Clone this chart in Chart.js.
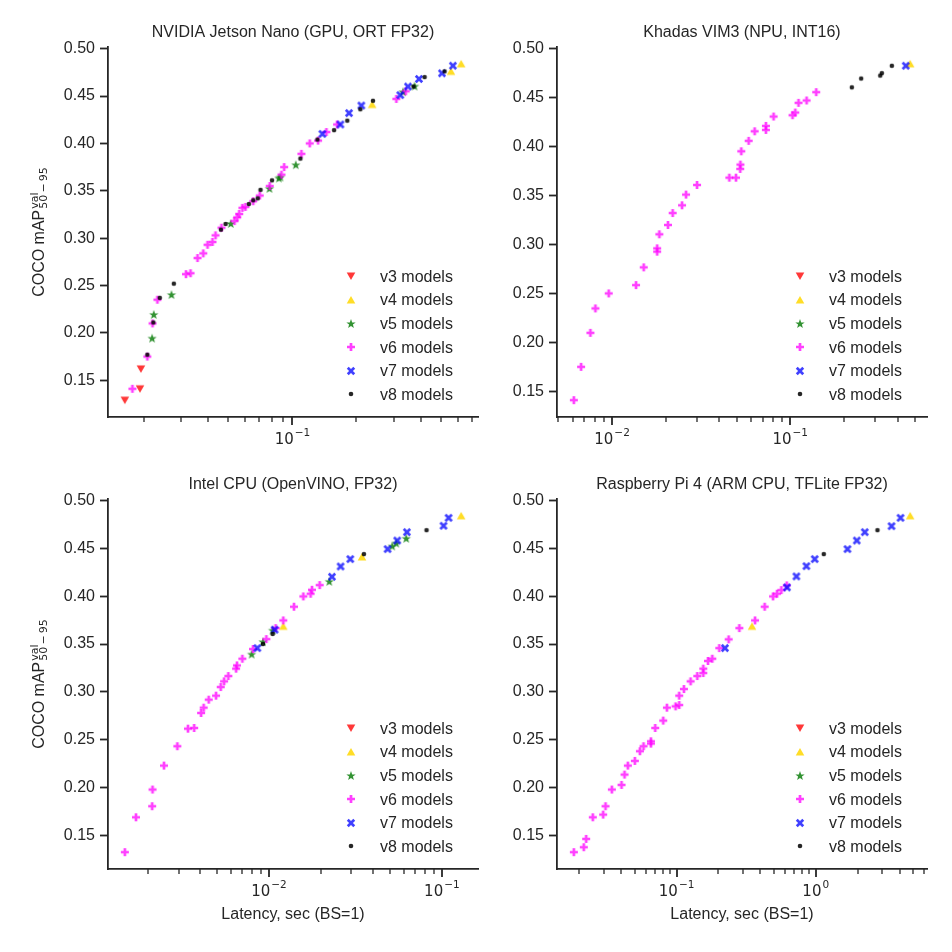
<!DOCTYPE html>
<html>
<head>
<meta charset="utf-8">
<script src="https://cdn.jsdelivr.net/npm/chart.js@4.4.1/dist/chart.umd.min.js"></script>
<style>
  body { margin: 0; background: #fff; }
  #wrap { position: relative; width: 952px; height: 952px; background: #fff; }
  canvas { position: absolute; }
</style>
</head>
<body>
<div id="wrap"></div>
<script>
// Labels
const seriesNames = ['v3 models', 'v4 models', 'v5 models', 'v6 models', 'v7 models', 'v8 models'];
const panelTitles = ['NVIDIA Jetson Nano (GPU, ORT FP32)', 'Khadas VIM3 (NPU, INT16)',
                     'Intel CPU (OpenVINO, FP32)', 'Raspberry Pi 4 (ARM CPU, TFLite FP32)'];
const yTicks = [0.15, 0.20, 0.25, 0.30, 0.35, 0.40, 0.45, 0.50];
const xMajorTicks = [[0.1], [0.01, 0.1], [0.01, 0.1], [0.1, 1]];
const xAxisLabel = 'Latency, sec (BS=1)';

// NVIDIA Jetson Nano: [latency sec, mAP]
const nanoV3 = [[0.0163,0.129],[0.0192,0.141],[0.0194,0.162]];
const nanoV4 = [[0.237,0.441],[0.556,0.476],[0.621,0.484]];
const nanoV5 = [[0.0219,0.194],[0.0223,0.219],[0.0270,0.240],[0.0513,0.315],[0.078,0.352],[0.0863,0.363],
                [0.0878,0.364],[0.1037,0.377],[0.331,0.454],[0.375,0.460]];
const nanoV6 = [[0.0177,0.141],[0.0208,0.175],[0.0220,0.210],[0.0232,0.235],[0.0316,0.262],[0.0332,0.263],
                [0.0358,0.279],[0.0381,0.284],[0.0399,0.293],[0.0421,0.296],[0.0435,0.303],[0.0464,0.311],
                [0.0534,0.318],[0.0550,0.322],[0.0562,0.3255],[0.0582,0.332],[0.0601,0.333],[0.0654,0.339],
                [0.0702,0.345],[0.0782,0.355],[0.0888,0.367],[0.0914,0.375],[0.1102,0.389],[0.1206,0.400],
                [0.1320,0.403],[0.1444,0.412],[0.1621,0.420],[0.3078,0.447],[0.3404,0.455]];
const nanoV7 = [[0.1383,0.410],[0.168,0.420],[0.1845,0.432],[0.2108,0.440],[0.3213,0.451],[0.3491,0.460],
                [0.3933,0.468],[0.5044,0.474],[0.5679,0.482]];
const nanoV8 = [[0.0208,0.177],[0.0222,0.211],[0.0238,0.237],[0.0277,0.252],[0.0461,0.309],[0.0485,0.315],
                [0.0624,0.336],[0.0654,0.340],[0.0687,0.342],[0.0708,0.351],[0.0802,0.361],[0.109,0.384],
                [0.131,0.404],[0.157,0.414],[0.181,0.424],[0.2085,0.436],[0.239,0.445],[0.371,0.460],
                [0.418,0.470],[0.519,0.476]];

// Khadas VIM3
const vim3V3 = [];
const vim3V4 = [[0.471,0.484]];
const vim3V5 = [];
const vim3V6 = [[0.0061,0.1409],[0.0067,0.1749],[0.00756,0.2096],[0.00806,0.2345],[0.00958,0.2498],
                [0.01363,0.2583],[0.01505,0.2764],[0.0179,0.2924],[0.0179,0.2958],[0.01842,0.3101],
                [0.0206,0.3196],[0.02188,0.3318],[0.0247,0.3397],[0.026,0.3506],[0.02997,0.3604],
                [0.0455,0.3679],[0.0496,0.3679],[0.0524,0.3768],[0.0525,0.3812],[0.0531,0.3948],
                [0.0584,0.4054],[0.0631,0.4152],[0.073,0.4166],[0.073,0.4207],[0.0806,0.4302],
                [0.103,0.4316],[0.1067,0.4343],[0.1113,0.4442],[0.1235,0.4466],[0.1399,0.4551]];
const vim3V7 = [[0.445,0.482]];
const vim3V8 = [[0.2217,0.460],[0.25,0.469],[0.3197,0.472],[0.3266,0.4745],[0.3716,0.482]];

// Intel CPU
const intelV3 = [];
const intelV4 = [[0.0121,0.3685],[0.0345,0.441],[0.1293,0.484]];
const intelV5 = [[0.00794,0.339],[0.00923,0.352],[0.0105,0.364],[0.02233,0.415],[0.0516,0.452],
                 [0.0545,0.455],[0.0622,0.460]];
const intelV6 = [[0.001466,0.1325],[0.0017,0.169],[0.00211,0.1805],[0.00212,0.198],[0.00247,0.223],
                 [0.00295,0.2432],[0.0034,0.2616],[0.00369,0.2623],[0.00405,0.278],[0.00419,0.2835],
                 [0.00448,0.2919],[0.00494,0.2961],[0.00526,0.3051],[0.0055,0.311],[0.00582,0.3166],
                 [0.00645,0.3243],[0.00653,0.3277],[0.00701,0.3347],[0.00808,0.3448],[0.00965,0.3552],
                 [0.01093,0.3667],[0.0121,0.3747],[0.01395,0.389],[0.0158,0.3998],[0.0174,0.4026],
                 [0.01772,0.4067],[0.01963,0.4116]];
const intelV7 = [[0.00856,0.3458],[0.01078,0.365],[0.02313,0.4203],[0.02596,0.4311],[0.02953,0.4388],
                 [0.04852,0.4492],[0.05518,0.4582],[0.06277,0.4669],[0.1022,0.4736],[0.1093,0.4819]];
const intelV8 = [[0.00923,0.350],[0.0105,0.3605],[0.0354,0.444],[0.0815,0.469]];

// Raspberry Pi 4
const rpiV3 = [];
const rpiV4 = [[0.348,0.3685],[4.771,0.484]];
const rpiV5 = [];
const rpiV6 = [[0.01826,0.1325],[0.02154,0.1377],[0.02239,0.1464],[0.025,0.169],[0.02968,0.1718],
               [0.03085,0.1805],[0.03425,0.198],[0.04022,0.2028],[0.04226,0.2136],[0.04466,0.223],
               [0.05013,0.2279],[0.05448,0.238],[0.05787,0.2432],[0.06535,0.246],[0.06535,0.2484],
               [0.07023,0.2623],[0.08016,0.27],[0.08521,0.2835],[0.09836,0.2849],[0.1045,0.2863],
               [0.1045,0.2961],[0.1129,0.303],[0.1261,0.311],[0.1408,0.3166],[0.1555,0.3197],
               [0.1555,0.3243],[0.168,0.3323],[0.1805,0.3347],[0.2027,0.3458],[0.2366,0.3549],
               [0.2824,0.3667],[0.3661,0.3747],[0.4296,0.389],[0.4932,0.3998],[0.5271,0.4026],
               [0.5662,0.4064],[0.6185,0.4113]];
const rpiV7 = [[0.2227,0.3458],[0.622,0.4092],[0.7262,0.4207],[0.8568,0.4314],[0.9836,0.4388],
               [1.69,0.4492],[1.972,0.4582],[2.252,0.4669],[3.503,0.4732],[4.066,0.4819]];
const rpiV8 = [[1.142,0.444],[2.777,0.469]];

const panelSeries = [
  [nanoV3, nanoV4, nanoV5, nanoV6, nanoV7, nanoV8],
  [vim3V3, vim3V4, vim3V5, vim3V6, vim3V7, vim3V8],
  [intelV3, intelV4, intelV5, intelV6, intelV7, intelV8],
  [rpiV3, rpiV4, rpiV5, rpiV6, rpiV7, rpiV8]
];

const INK = '#262626';
const SANS = '"Liberation Sans", Arial, sans-serif';
const MATH = '"DejaVu Sans", sans-serif';

// marker sprites (matplotlib v, ^, *, P, X, .)
function makeMarker(kind, color) {
  const s = 14, c = document.createElement('canvas');
  c.width = s; c.height = s;
  const g = c.getContext('2d');
  g.fillStyle = color;
  g.translate(s / 2, s / 2);
  g.beginPath();
  if (kind === 'v') {
    g.moveTo(-4.3, -3.6); g.lineTo(4.3, -3.6); g.lineTo(0, 4.0);
  } else if (kind === '^') {
    g.moveTo(-4.3, 3.6); g.lineTo(4.3, 3.6); g.lineTo(0, -4.0);
  } else if (kind === '*') {
    for (let i = 0; i < 10; i++) {
      const r = i % 2 ? 2.0 : 4.9;
      const a = -Math.PI / 2 + i * Math.PI / 5;
      g.lineTo(r * Math.cos(a), r * Math.sin(a));
    }
  } else if (kind === 'P' || kind === 'X') {
    if (kind === 'X') g.rotate(Math.PI / 4);
    const w = 1.35, l = kind === 'X' ? 4.6 : 4.0;
    g.moveTo(-w, -l); g.lineTo(w, -l); g.lineTo(w, -w); g.lineTo(l, -w); g.lineTo(l, w);
    g.lineTo(w, w); g.lineTo(w, l); g.lineTo(-w, l); g.lineTo(-w, w); g.lineTo(-l, w);
    g.lineTo(-l, -w); g.lineTo(-w, -w);
  } else {
    g.arc(0, 0, 2.3, 0, Math.PI * 2);
  }
  g.closePath();
  g.fill();
  return c;
}

const markers = [
  makeMarker('v', 'rgba(255,0,0,0.78)'),
  makeMarker('^', 'rgba(255,215,0,0.85)'),
  makeMarker('*', 'rgba(0,120,0,0.8)'),
  makeMarker('P', 'rgba(255,0,255,0.75)'),
  makeMarker('X', 'rgba(0,0,255,0.75)'),
  makeMarker('.', 'rgba(0,0,0,0.85)')
];

function paddedRange(vals, log) {
  const t = log ? vals.map(Math.log10) : vals;
  const lo = Math.min(...t), hi = Math.max(...t), m = (hi - lo) * 0.05;
  return log ? [Math.pow(10, lo - m), Math.pow(10, hi + m)] : [lo - m, hi + m];
}

// titles, log ticks, legend and axis labels
const decor = {
  id: 'decor',
  afterDraw(chart) {
    const o = chart.options.plugins.decor;
    const ctx = chart.ctx, a = chart.chartArea, xs = chart.scales.x;
    ctx.save();
    ctx.fillStyle = INK;
    ctx.strokeStyle = INK;

    // title
    ctx.font = '16px ' + SANS;
    ctx.textAlign = 'center';
    ctx.textBaseline = 'middle';
    ctx.fillText(o.title, (a.left + a.right) / 2, a.top - 14.5);

    // log x ticks
    const e0 = Math.floor(Math.log10(xs.min)), e1 = Math.ceil(Math.log10(xs.max));
    for (let e = e0; e <= e1; e++) {
      for (let k = 1; k < 10; k++) {
        const v = k * Math.pow(10, e);
        if (v < xs.min || v > xs.max) continue;
        const px = Math.round(xs.getPixelForValue(v));
        ctx.lineWidth = k === 1 ? 1.8 : 1.3;
        ctx.beginPath();
        ctx.moveTo(px, a.bottom);
        ctx.lineTo(px, a.bottom + (k === 1 ? 8 : 5));
        ctx.stroke();
      }
    }
    ctx.textAlign = 'left';
    ctx.textBaseline = 'alphabetic';
    o.majors.forEach(v => {
      const ex = String(Math.round(Math.log10(v))).replace('-', '\u2212');
      ctx.font = '15px ' + MATH;
      const wb = ctx.measureText('10').width;
      ctx.font = '10.5px ' + MATH;
      const we = ctx.measureText(ex).width;
      const x0 = xs.getPixelForValue(v) - (wb + we + 1) / 2;
      ctx.font = '15px ' + MATH;
      ctx.fillText('10', x0, a.bottom + 26.5);
      ctx.font = '10.5px ' + MATH;
      ctx.fillText(ex, x0 + wb + 1, a.bottom + 18.5);
    });

    // x axis label
    if (o.xLabel) {
      ctx.font = '16px ' + SANS;
      ctx.textAlign = 'center';
      ctx.textBaseline = 'middle';
      ctx.fillText(o.xLabel, (a.left + a.right) / 2, a.bottom + 46);
    }

    // y axis label: COCO mAP^val_50-95
    if (o.yLabel) {
      ctx.save();
      ctx.translate(a.left - 64.5, (a.top + a.bottom) / 2);
      ctx.rotate(-Math.PI / 2);
      ctx.textAlign = 'left';
      ctx.textBaseline = 'alphabetic';
      ctx.font = '16px ' + SANS;
      const main = 'COCO mAP';
      const wm = ctx.measureText(main).width;
      ctx.font = '11px ' + MATH;
      const sub = '50\u2009\u2212\u200995';
      const ws = ctx.measureText(sub).width;
      const x0 = -(wm + ws + 1) / 2;
      ctx.font = '16px ' + SANS;
      ctx.fillText(main, x0, 0);
      ctx.font = '11px ' + MATH;
      ctx.fillText('val', x0 + wm + 1, -5.5);
      ctx.fillText(sub, x0 + wm + 1, 3.5);
      ctx.restore();
    }

    // legend, lower right inside the axes
    ctx.font = '16px ' + SANS;
    ctx.textAlign = 'left';
    ctx.textBaseline = 'middle';
    const lx = a.right - 127.5;
    seriesNames.forEach((name, i) => {
      const ly = a.bottom - 22.7 - (seriesNames.length - 1 - i) * 23.6;
      const m = markers[i];
      ctx.drawImage(m, Math.round(lx - m.width / 2), Math.round(ly - m.height / 2));
      ctx.fillText(name, lx + 29.5, ly + 1);
    });
    ctx.restore();
  }
};

const wrap = document.getElementById('wrap');
const plotLefts = [108, 557, 108, 557];
const plotTops = [47, 47, 499, 499];
const PAD_L = 100, PAD_T = 45, PAD_R = 20, PAD_B = 60, SIDE = 370;

panelSeries.forEach((series, p) => {
  const cv = document.createElement('canvas');
  cv.width = PAD_L + SIDE + PAD_R;
  cv.height = PAD_T + SIDE + PAD_B;
  cv.style.left = (plotLefts[p] - PAD_L) + 'px';
  cv.style.top = (plotTops[p] - PAD_T) + 'px';
  wrap.appendChild(cv);

  const all = [].concat(...series);
  const xr = paddedRange(all.map(d => d[0]), true);
  const yr = paddedRange(all.map(d => d[1]), false);

  new Chart(cv.getContext('2d'), {
    type: 'scatter',
    data: {
      datasets: series.map((pts, i) => ({
        label: seriesNames[i],
        data: pts.map(d => ({ x: d[0], y: d[1] })),
        pointStyle: markers[i],
        pointRadius: 5,
        order: series.length - i
      }))
    },
    options: {
      responsive: false,
      animation: false,
      events: [],
      layout: { padding: { top: PAD_T, right: PAD_R, bottom: 0, left: 0 } },
      plugins: {
        legend: { display: false },
        tooltip: { enabled: false },
        decor: {
          title: panelTitles[p],
          majors: xMajorTicks[p],
          xLabel: p >= 2 ? xAxisLabel : null,
          yLabel: p % 2 === 0
        }
      },
      scales: {
        x: {
          type: 'logarithmic',
          min: xr[0],
          max: xr[1],
          ticks: { display: false },
          grid: { display: false },
          border: { display: true, color: INK, width: 1.8 },
          afterFit: s => { s.height = PAD_B; }
        },
        y: {
          type: 'linear',
          min: yr[0],
          max: yr[1],
          afterBuildTicks: s => { s.ticks = yTicks.map(v => ({ value: v })); },
          ticks: {
            autoSkip: false,
            padding: 5,
            color: INK,
            font: { family: SANS, size: 16 },
            callback: v => v.toFixed(2)
          },
          grid: {
            display: true,
            drawOnChartArea: false,
            drawTicks: true,
            tickLength: 8,
            tickWidth: 1.8,
            tickColor: INK
          },
          border: { display: true, color: INK, width: 1.8 },
          afterFit: s => { s.width = PAD_L; }
        }
      }
    },
    plugins: [decor]
  });
});
</script>
</body>
</html>
